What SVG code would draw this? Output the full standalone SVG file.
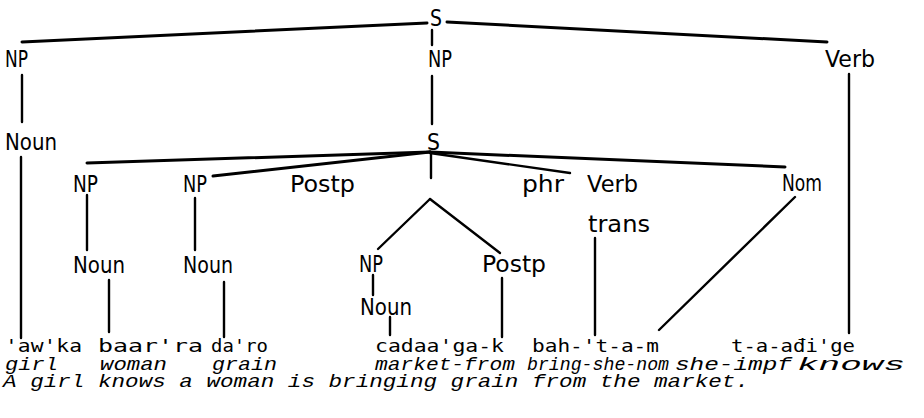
<svg xmlns="http://www.w3.org/2000/svg" width="924" height="418" viewBox="0 0 924 418">
<style>
.lbl{font-family:"DejaVu Sans","Liberation Sans",sans-serif;font-size:23px;fill:#000}
.w{font-family:"DejaVu Sans Mono","Liberation Mono",monospace;font-size:18px;fill:#000}
.g{font-family:"Liberation Mono","DejaVu Sans Mono",monospace;font-style:italic;font-size:18.5px;fill:#000}
.e{font-family:"Liberation Mono","DejaVu Sans Mono",monospace;font-style:italic;font-size:18.5px;fill:#000}
.c line{stroke:#000;stroke-width:2.4;stroke-linecap:round;fill:none}
.c .thick{stroke-width:3}
</style>
<rect width="924" height="418" fill="#fff"/>
<g id="connectors" class="c">
<line class="thick" x1="427" y1="23" x2="22" y2="42"/>
<line class="thick" x1="447" y1="22" x2="827" y2="42"/>
<line x1="432" y1="30" x2="432" y2="45"/>
<line x1="22" y1="75" x2="22" y2="122"/>
<line x1="21" y1="157" x2="21" y2="338"/>
<line x1="432" y1="76" x2="432" y2="124"/>
<line class="thick" x1="430" y1="152" x2="87" y2="163"/>
<line class="thick" x1="430" y1="152" x2="213" y2="176"/>
<line x1="430" y1="153" x2="570" y2="173"/>
<line class="thick" x1="430" y1="152" x2="785" y2="167"/>
<line x1="431" y1="153" x2="431" y2="178"/>
<line x1="430" y1="199" x2="378" y2="249"/>
<line x1="430" y1="199" x2="500" y2="253"/>
<line x1="87" y1="195" x2="87" y2="250"/>
<line x1="195" y1="198" x2="195" y2="250"/>
<line x1="109" y1="280" x2="109" y2="332"/>
<line x1="224" y1="282" x2="224" y2="337"/>
<line x1="373" y1="275" x2="373" y2="295"/>
<line x1="390" y1="317" x2="390" y2="335"/>
<line x1="502" y1="278" x2="502" y2="337"/>
<line x1="595" y1="238" x2="595" y2="335"/>
<line x1="795" y1="197" x2="659" y2="330"/>
<line x1="849" y1="74" x2="849" y2="333"/>
</g>
<g id="n-S-top"><text class="lbl" x="430" y="26" textLength="12" lengthAdjust="spacingAndGlyphs">S</text></g>
<g id="n-NP-left"><text class="lbl" x="5" y="67" textLength="23" lengthAdjust="spacingAndGlyphs">NP</text></g>
<g id="n-NP-mid"><text class="lbl" x="428" y="67" textLength="24" lengthAdjust="spacingAndGlyphs">NP</text></g>
<g id="n-Verb-top"><text class="lbl" x="825" y="67" textLength="50" lengthAdjust="spacingAndGlyphs">Verb</text></g>
<g id="n-Noun-left"><text class="lbl" x="5" y="150" textLength="52" lengthAdjust="spacingAndGlyphs">Noun</text></g>
<g id="n-S-mid"><text class="lbl" x="427" y="150" textLength="13" lengthAdjust="spacingAndGlyphs">S</text></g>
<g id="n-NP1"><text class="lbl" x="73" y="192" textLength="25" lengthAdjust="spacingAndGlyphs">NP</text></g>
<g id="n-NP2"><text class="lbl" x="183" y="192" textLength="24" lengthAdjust="spacingAndGlyphs">NP</text></g>
<g id="n-Postp-phr"><text class="lbl" x="290" y="192" textLength="65" lengthAdjust="spacingAndGlyphs">Postp</text><text class="lbl" x="522" y="192" textLength="42" lengthAdjust="spacingAndGlyphs">phr</text></g>
<g id="n-Verb-trans"><text class="lbl" x="587" y="192" textLength="51" lengthAdjust="spacingAndGlyphs">Verb</text><text class="lbl" x="588" y="232" textLength="62" lengthAdjust="spacingAndGlyphs">trans</text></g>
<g id="n-Nom"><text class="lbl" x="782" y="191" textLength="40" lengthAdjust="spacingAndGlyphs">Nom</text></g>
<g id="n-Noun1"><text class="lbl" x="73" y="273" textLength="52" lengthAdjust="spacingAndGlyphs">Noun</text></g>
<g id="n-Noun2"><text class="lbl" x="183" y="273" textLength="50" lengthAdjust="spacingAndGlyphs">Noun</text></g>
<g id="n-NP-low"><text class="lbl" x="359" y="272" textLength="24" lengthAdjust="spacingAndGlyphs">NP</text></g>
<g id="n-Postp-low"><text class="lbl" x="482" y="272" textLength="64" lengthAdjust="spacingAndGlyphs">Postp</text></g>
<g id="n-Noun-low"><text class="lbl" x="360" y="315" textLength="52" lengthAdjust="spacingAndGlyphs">Noun</text></g>
<g id="words">
<text class="w" x="5" y="352" textLength="77" lengthAdjust="spacingAndGlyphs">'aw'ka</text>
<text class="w" x="98" y="352" textLength="105" lengthAdjust="spacingAndGlyphs">baar'ra</text>
<text class="w" x="211" y="352" textLength="57" lengthAdjust="spacingAndGlyphs">da'ro</text>
<text class="w" x="375" y="352" textLength="129" lengthAdjust="spacingAndGlyphs">cadaa'ga-k</text>
<text class="w" x="532" y="352" textLength="127" lengthAdjust="spacingAndGlyphs">bah-'t-a-m</text>
<text class="w" x="731" y="352" textLength="124" lengthAdjust="spacingAndGlyphs">t-a-ađi'ge</text>
</g>
<g id="glosses">
<text class="g" x="5" y="370" textLength="53" lengthAdjust="spacingAndGlyphs">girl</text>
<text class="g" x="100" y="370" textLength="67" lengthAdjust="spacingAndGlyphs">woman</text>
<text class="g" x="212" y="370" textLength="65" lengthAdjust="spacingAndGlyphs">grain</text>
<text class="g" x="375" y="370" textLength="140" lengthAdjust="spacingAndGlyphs">market-from</text>
<text class="g" x="527" y="370" textLength="142" lengthAdjust="spacingAndGlyphs">bring-she-nom</text>
<text class="g" x="675" y="370" textLength="117" lengthAdjust="spacingAndGlyphs">she-impf</text>
<text class="g" x="797" y="370" textLength="108" lengthAdjust="spacingAndGlyphs">knows</text>
</g>
<g id="translation">
<text class="e" x="3" y="387" textLength="746" lengthAdjust="spacingAndGlyphs">A girl knows a woman is bringing grain from the market.</text>
</g>
</svg>
